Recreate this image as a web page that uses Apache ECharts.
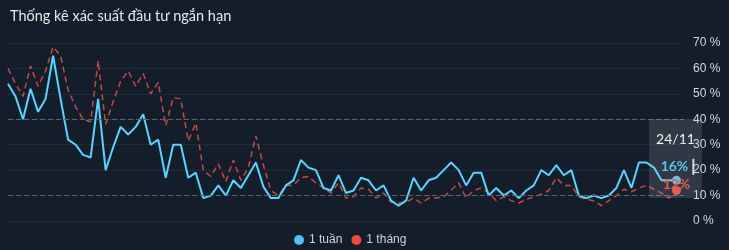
<!DOCTYPE html>
<html>
<head>
<meta charset="utf-8">
<script src="https://cdn.jsdelivr.net/npm/echarts@6/dist/echarts.min.js"></script>
<style>
html,body{margin:0;padding:0;background:#141e2a;}
#c{width:729px;height:250px;}
</style>
</head>
<body>
<div id="c"></div>
<script>
var titleText = 'Thống kê xác suất đầu tư ngắn hạn';
var seriesNames = ['1 tuần', '1 tháng'];
var categories = [
'24/07','25/07','26/07','27/07','28/07','31/07',
'01/08','02/08','03/08','04/08','07/08','08/08','09/08','10/08','11/08','14/08','15/08','16/08','17/08','18/08','21/08','22/08','23/08','24/08','25/08','28/08','29/08','30/08','31/08',
'01/09','04/09','05/09','06/09','07/09','08/09','11/09','12/09','13/09','14/09','15/09','18/09','19/09','20/09','21/09','22/09','25/09','26/09','27/09','28/09','29/09',
'02/10','03/10','04/10','05/10','06/10','09/10','10/10','11/10','12/10','13/10','16/10','17/10','18/10','19/10','20/10','23/10','24/10','25/10','26/10','27/10','30/10','31/10',
'01/11','02/11','03/11','06/11','07/11','08/11','09/11','10/11','13/11','14/11','15/11','16/11','17/11','20/11','21/11','22/11','23/11','24/11',
''
];
var week = [54,49,40,52,43,48,65,48,32,30,26,25,48,20,29,37,34,37,42,30,
32,17,30,30,17,19,9,10,14,10,16,13,18,23,13.5,9,9,14,16,24,
21,20,13,12,18,11,12,17,16,12,14,8,6,8,17,12,16,17,20,23,
20,14,19,19,10,13,10,12,9,12,14,20,18,22,18,20,10,9,10,9,
10,13,20,13,23,23,21,16,16,16];
var month = [60,54,49,61,53,59,68.5,65,51.5,45,40,39,63,38,47,55,59,53,58,50,
54.5,37.5,48.5,48,31.5,38.5,20,17.5,22.5,15.5,24,16,21,33.5,22,12,10,14,14,17,
17.5,15,13,11,15,9,9.5,13,12.5,9,11,7.5,7,7.5,9,7,9,9,9.5,12,
15,9,12,13,11,8,9.5,8,7,8.5,9.5,10.5,12,17,14,14,9.5,8.5,8,6,
8,10,12.5,11.5,13,14,12.5,11,9,12];
var yTicks = [0,10,20,30,40,50,60,70];
var dashedLevels = [40, 10];

var BLUE = '#4cc3f3', RED = '#ec4a3c';
var last = week.length - 1;

var chart = echarts.init(document.getElementById('c'), null, {renderer:'canvas'});
chart.setOption({
  backgroundColor: '#141e2a',
  animation: false,
  title: {
    text: titleText, left: 5, top: 4,
    textStyle: {color:'#e8e8e8', fontSize:14.5, fontWeight:'normal', fontFamily:'Lato'}
  },
  legend: {
    data: seriesNames, left: 289, top: 229, icon: 'circle',
    itemWidth: 10, itemHeight: 10, itemGap: 9,
    textStyle: {color:'#cfd3d8', fontSize:12, fontFamily:'Liberation Sans'}
  },
  grid: {left: 8, right: 45, top: 43, bottom: 29},
  tooltip: {
    trigger: 'axis', triggerOn: 'none', alwaysShowContent: true,
    axisPointer: {type: 'none'},
    backgroundColor: 'rgba(190,195,205,0.16)', borderWidth: 0, padding: 0,
    extraCssText: 'box-shadow:none;border-radius:2px;width:53px;height:79px;box-sizing:border-box;text-align:center;padding-top:9px;',
    textStyle: {color:'#eeeeee', fontSize:14, fontFamily:'Lato'},
    position: function(){ return [649, 119]; },
    formatter: function(p){ return p[0].name; }
  },
  xAxis: {
    type: 'category', data: categories, boundaryGap: false,
    axisLine: {show:false}, axisTick: {show:false}, axisLabel: {show:false}, splitLine: {show:false}
  },
  yAxis: {
    type: 'value', position: 'right', min: yTicks[0], max: yTicks[yTicks.length-1], interval: 10,
    axisLine: {show:false}, axisTick: {show:false},
    axisLabel: {formatter: '{value} %', color:'#d4d7db', fontSize:12, fontFamily:'Liberation Sans', margin: 9},
    splitLine: {lineStyle: {color:'#1f2a37', width:1}}
  },
  series: [
    {
      name: seriesNames[0], type: 'line', data: week, showSymbol: false, symbol: 'none',
      itemStyle: {color: BLUE}, lineStyle: {color: BLUE, width: 2}, z: 3,
      markLine: {
        silent: true, symbol: 'none', label: {show:false},
        lineStyle: {color:'#5d6570', type:[5,3], width:1},
        data: dashedLevels.map(function(v){ return {yAxis: v}; })
      },
      markPoint: {
        symbol: 'circle', symbolSize: 9, itemStyle: {color: BLUE},
        label: {
          show: true, position: 'top', distance: 1, offset: [1, 0],
          formatter: function(p){ return '{v|' + Math.round(p.value) + '%}{gap|}{bar|}'; },
          rich: {
            v: {color: BLUE, fontSize: 14, fontWeight: 'bold', fontFamily: 'Lato'},
            gap: {width: 4},
            bar: {backgroundColor: '#d9dde2', width: 2, height: 16}
          }
        },
        data: [{coord: [last, week[last]], value: week[last]}]
      }
    },
    {
      name: seriesNames[1], type: 'line', data: month, showSymbol: false, symbol: 'none',
      itemStyle: {color: RED}, lineStyle: {color: '#b4423a', width: 1.5, type: [6,4]}, z: 2,
      markPoint: {
        symbol: 'circle', symbolSize: 9, itemStyle: {color: RED},
        label: {
          show: true, position: 'inside', offset: [0, -6],
          formatter: function(p){ return Math.round(p.value) + '%'; },
          color: RED, fontSize: 14, fontWeight: 'bold', fontFamily: 'Lato'
        },
        data: [{coord: [last, month[last]], value: month[last]}]
      }
    }
  ]
});
function showTip(){ chart.dispatchAction({type:'showTip', seriesIndex:0, dataIndex:last}); }
showTip();
setTimeout(showTip, 50);
</script>
</body>
</html>
